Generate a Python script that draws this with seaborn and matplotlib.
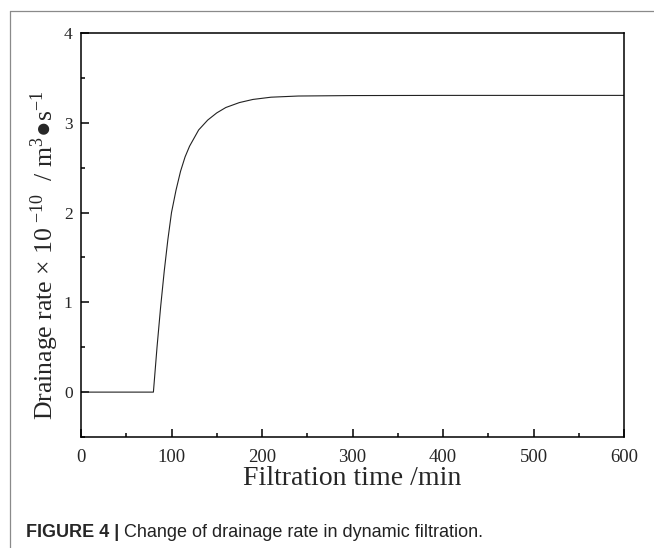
import numpy as np
import pandas as pd
import matplotlib
matplotlib.use('Agg')
import matplotlib.pyplot as plt
import seaborn as sns
from matplotlib.ticker import MultipleLocator
from matplotlib.lines import Line2D

# drainage rate (x10^-10 m^3/s)
time_min = [0, 80, 84, 88, 92, 96, 100, 105, 110, 115, 120, 130, 140, 150, 160,
            175, 190, 210, 240, 300, 400, 500, 600]
rate = [0, 0, 0.50, 0.95, 1.35, 1.70, 2.00, 2.25, 2.46, 2.62, 2.74, 2.92, 3.03,
        3.11, 3.17, 3.225, 3.26, 3.285, 3.298, 3.303, 3.305, 3.305, 3.305]

xticks = [0, 100, 200, 300, 400, 500, 600]
yticks = [0, 1, 2, 3, 4]

d = pd.DataFrame({'time': time_min, 'rate': rate})

sns.set_theme(style='ticks')
plt.rcParams['font.family'] = ['Liberation Serif', 'DejaVu Serif']
plt.rcParams['mathtext.fontset'] = 'stix'

fig = plt.figure(figsize=(6.54, 5.48), dpi=100)
ax = fig.add_axes([81 / 654, 1 - 437 / 548, 543 / 654, 404 / 548])

sns.lineplot(data=d, x='time', y='rate', ax=ax, color='#222222', linewidth=0.8)

ax.set_xlim(0, 600)
ax.set_ylim(-0.5, 4)
ax.set_xticks(xticks)
ax.set_yticks(yticks)
ax.xaxis.set_minor_locator(MultipleLocator(50))
ax.yaxis.set_minor_locator(MultipleLocator(0.5))
ax.tick_params(which='both', direction='in', top=False, right=False, color='black', width=1.1)
ax.tick_params(which='major', length=5.5)
ax.tick_params(which='minor', length=3)
ax.tick_params(axis='x', labelsize=13.5, pad=8.5)
ax.tick_params(axis='y', labelsize=12.5, pad=6)
for s in ax.spines.values():
    s.set_visible(True)
    s.set_color('black')
    s.set_linewidth(1.1)

ax.set_xlabel('Filtration time /min', fontsize=20, labelpad=0)
ax.set_ylabel('Drainage rate \u00d7 10$^{\\ \\mathregular{-10}}$  / m$^{\\mathregular{3}}$\u25cfs$^{\\mathregular{-1}}$',
              fontsize=18.5)
ax.yaxis.set_label_coords(-0.036, 0.45)

# outer frame of the figure panel
fig.add_artist(Line2D([9.5 / 654, 9.5 / 654], [0, 1 - 10.5 / 548], color='#8a8a8a', lw=0.9))
fig.add_artist(Line2D([9.5 / 654, 1], [1 - 10.5 / 548, 1 - 10.5 / 548], color='#8a8a8a', lw=0.9))

# caption
t1 = fig.text(26 / 654, 1 - 537 / 548, 'FIGURE 4 | ', fontsize=13, fontweight='bold',
              family=['Liberation Sans', 'DejaVu Sans'])
r = fig.canvas.get_renderer()
bb = t1.get_window_extent(renderer=r)
fig.text(bb.x1 / fig.bbox.width, 1 - 537 / 548, 'Change of drainage rate in dynamic filtration.',
         fontsize=13, family=['Liberation Sans', 'DejaVu Sans'], color='#222222')

fig.savefig('out.png', dpi=100)
